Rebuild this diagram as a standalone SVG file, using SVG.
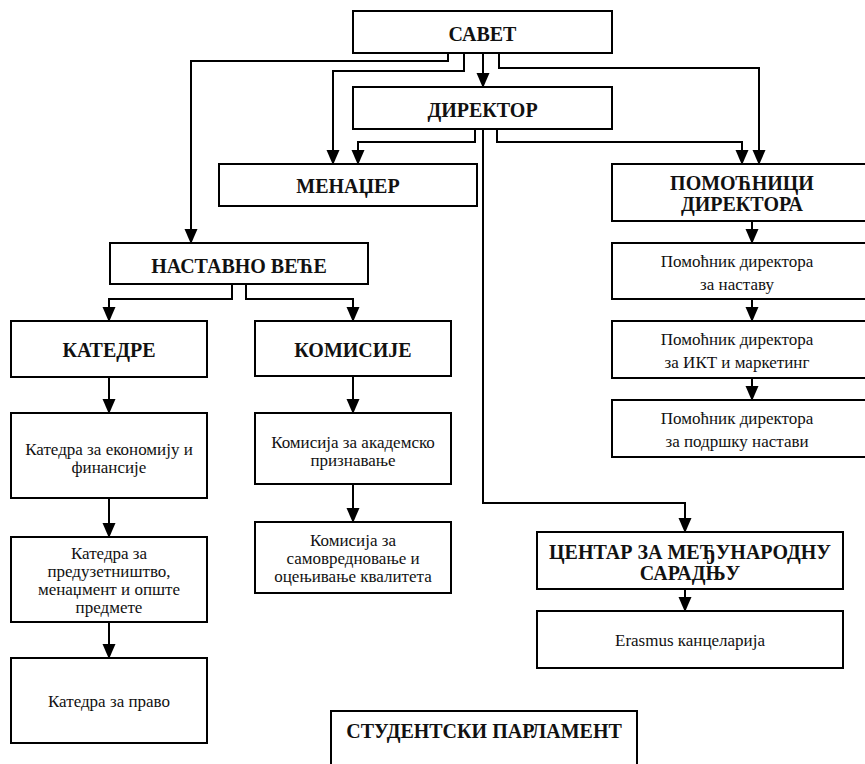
<svg xmlns="http://www.w3.org/2000/svg" width="865" height="764" viewBox="0 0 865 764">
<style>
.box{fill:#fff;stroke:#000;stroke-width:2}
.h{font-family:"Liberation Serif",serif;font-weight:bold;font-size:20px;text-anchor:middle;fill:#111}
.t{font-family:"Liberation Serif",serif;font-size:17px;text-anchor:middle;fill:#111}
.c{fill:none;stroke:#000;stroke-width:2;marker-end:url(#ah)}
</style>
<defs>
<marker id="ah" markerUnits="userSpaceOnUse" markerWidth="14" markerHeight="16" refX="14" refY="6.5" orient="auto">
<path d="M0,0 L15,6.5 L0,13 Z" fill="#000"/>
</marker>
</defs>
<rect width="865" height="764" fill="#fff"/>
<g id="connectors">
<path class="c" d="M448 53 V61 H191 V243"/>
<path class="c" d="M464 53 V71 H333 V164"/>
<path class="c" d="M483 53 V87"/>
<path class="c" d="M499 53 V68 H759 V164"/>
<path class="c" d="M475 129 V142 H358 V164"/>
<path class="c" d="M483 129 V503 H685 V532"/>
<path class="c" d="M497 129 V142 H742 V164"/>
<path class="c" d="M752 221 V243"/>
<path class="c" d="M752 299 V321"/>
<path class="c" d="M752 378 V400"/>
<path class="c" d="M232 284 V299 H109 V321"/>
<path class="c" d="M246 284 V299 H353 V321"/>
<path class="c" d="M109 377 V413"/>
<path class="c" d="M109 498 V537"/>
<path class="c" d="M109 622 V658"/>
<path class="c" d="M353 376 V413"/>
<path class="c" d="M353 484 V522"/>
<path class="c" d="M685 589 V611"/>
</g>
<g id="savet"><rect class="box" x="353" y="11" width="259" height="42"/><text class="h" x="482.5" y="41">САВЕТ</text></g>
<g id="direktor"><rect class="box" x="353" y="87" width="259" height="42"/><text class="h" x="482.5" y="117">ДИРЕКТОР</text></g>
<g id="menadzer"><rect class="box" x="219" y="164" width="258" height="42"/><text class="h" x="348" y="193">МЕНАЏЕР</text></g>
<g id="pomocnici"><rect class="box" x="612" y="164" width="260" height="57"/><text class="h" x="742" y="190">ПОМОЋНИЦИ</text><text class="h" x="742" y="211">ДИРЕКТОРА</text></g>
<g id="pomocnik-nastava"><rect class="box" x="612" y="243" width="260" height="56"/><text class="t" x="737" y="267">Помоћник директора</text><text class="t" x="737" y="290">за наставу</text></g>
<g id="pomocnik-ikt"><rect class="box" x="612" y="321" width="260" height="57"/><text class="t" x="737" y="345">Помоћник директора</text><text class="t" x="737" y="368">за ИКТ и маркетинг</text></g>
<g id="pomocnik-podrska"><rect class="box" x="612" y="400" width="260" height="57"/><text class="t" x="737" y="424">Помоћник директора</text><text class="t" x="737" y="447">за подршку настави</text></g>
<g id="nastavno-vece"><rect class="box" x="110" y="243" width="258" height="41"/><text class="h" x="239" y="273">НАСТАВНО ВЕЋЕ</text></g>
<g id="katedre"><rect class="box" x="11" y="321" width="196" height="56"/><text class="h" x="109" y="357">КАТЕДРЕ</text></g>
<g id="komisije"><rect class="box" x="255" y="321" width="196" height="55"/><text class="h" x="353" y="357">КОМИСИЈЕ</text></g>
<g id="katedra-ekonomija"><rect class="box" x="11" y="413" width="196" height="85"/><text class="t" x="109" y="455">Катедра за економију и</text><text class="t" x="109" y="473">финансије</text></g>
<g id="katedra-preduzetnistvo"><rect class="box" x="11" y="537" width="196" height="85"/><text class="t" x="109" y="559">Катедра за</text><text class="t" x="109" y="577">предузетништво,</text><text class="t" x="109" y="595">менаџмент и опште</text><text class="t" x="109" y="613">предмете</text></g>
<g id="katedra-pravo"><rect class="box" x="11" y="658" width="196" height="85"/><text class="t" x="109" y="707">Катедра за право</text></g>
<g id="komisija-akademsko"><rect class="box" x="255" y="413" width="196" height="71"/><text class="t" x="353" y="448">Комисија за академско</text><text class="t" x="353" y="466">признавање</text></g>
<g id="komisija-samovrednovanje"><rect class="box" x="255" y="522" width="196" height="71"/><text class="t" x="353" y="546">Комисија за</text><text class="t" x="353" y="564">самовредновање и</text><text class="t" x="353" y="582">оцењивање квалитета</text></g>
<g id="centar"><rect class="box" x="537" y="532" width="306" height="57"/><text class="h" x="690" y="559">ЦЕНТАР ЗА МЕЂУНАРОДНУ</text><text class="h" x="690" y="580">САРАДЊУ</text></g>
<g id="erasmus"><rect class="box" x="537" y="611" width="306" height="57"/><text class="t" x="690" y="646">Erasmus канцеларија</text></g>
<g id="studentski-parlament"><rect class="box" x="331" y="711" width="306" height="70"/><text class="h" x="484" y="738">СТУДЕНТСКИ ПАРЛАМЕНТ</text></g>
</svg>
